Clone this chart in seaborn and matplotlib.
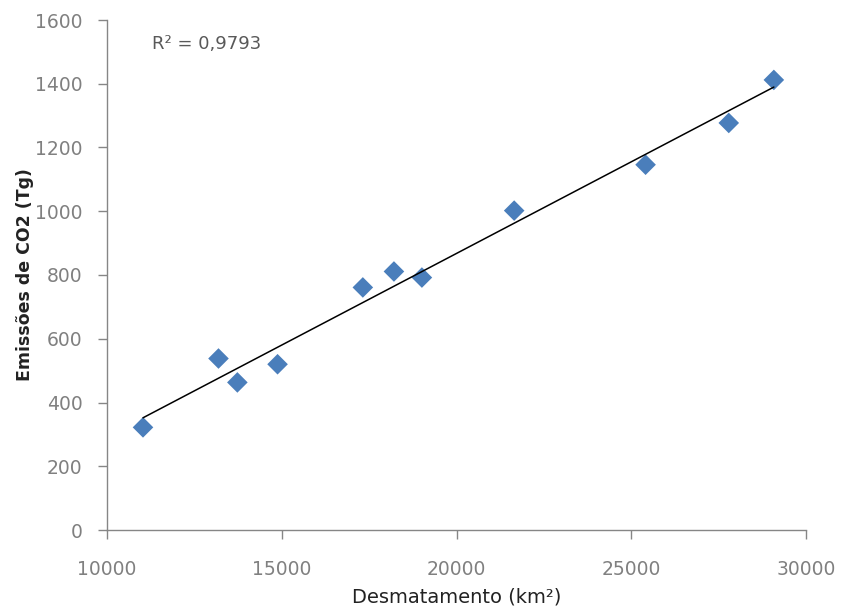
import matplotlib
matplotlib.use("Agg")
import matplotlib.pyplot as plt
import seaborn as sns
import pandas as pd

desmatamento = [11030, 13190, 13730, 14880, 17320, 18210, 19010, 21650, 25410, 27790, 29080]
emissoes = [322, 538, 463, 520, 761, 811, 792, 1002, 1146, 1277, 1412]
x_ticks = [10000, 15000, 20000, 25000, 30000]
y_ticks = [0, 200, 400, 600, 800, 1000, 1200, 1400, 1600]

df = pd.DataFrame({"x": desmatamento, "y": emissoes})

sns.set_theme(style="white")
plt.rcParams['font.family'] = ['DejaVu Sans']

fig = plt.figure(figsize=(8.42, 6.09), dpi=100)
ax = fig.add_axes([107 / 842, 1 - 530 / 609, 699 / 842, 510 / 609])

sns.regplot(data=df, x="x", y="y", ax=ax, ci=None, truncate=True,
            marker="D",
            scatter_kws=dict(s=110, color="#4A7EBB", edgecolor="none", alpha=1, zorder=2),
            line_kws=dict(color="black", lw=1.1, zorder=3))

ax.set_xlim(10000, 30000)
ax.set_ylim(0, 1600)
ax.set_xticks(x_ticks)
ax.set_yticks(y_ticks)
ax.tick_params(axis="both", labelsize=13.5, colors="#868686", labelcolor="#808080",
               direction="out", length=6.5, width=1, left=True, bottom=True)
ax.tick_params(axis="x", pad=15)
ax.tick_params(axis="y", pad=11)
for s in ["top", "right"]:
    ax.spines[s].set_visible(False)
for s in ["left", "bottom"]:
    ax.spines[s].set_color("#868686")
    ax.spines[s].set_linewidth(1)

ax.set_xlabel("Desmatamento (km²)", fontsize=14, color="#222222")
ax.set_ylabel("Emissões de CO2 (Tg)", fontsize=12.5, fontweight="bold", color="#222222")
ax.xaxis.label.set_verticalalignment("center")
ax.yaxis.label.set_verticalalignment("center")
ax.xaxis.set_label_coords(0.50, (530 - 597) / 510)
ax.yaxis.set_label_coords((25 - 107) / 699, 0.5)

ax.text((152 - 107) / 699, (530 - 44) / 510, "R² = 0,9793", transform=ax.transAxes,
        fontsize=13, color="#595959", va="center", ha="left")

fig.savefig("out.png", dpi=100)
